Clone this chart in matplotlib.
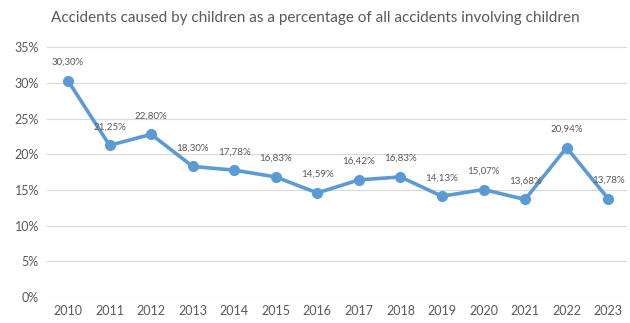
import matplotlib.pyplot as plt
from matplotlib.ticker import FuncFormatter

years = [str(y) for y in range(2010, 2024)]
values = [30.30, 21.25, 22.80, 18.30, 17.78, 16.83, 14.59, 16.42, 16.83, 14.13, 15.07, 13.68, 20.94, 13.78]

plt.rcParams['font.family'] = ['Lato', 'DejaVu Sans']
grey = '#595959'

fig = plt.figure(figsize=(6.3, 3.23), dpi=100)
ax = fig.add_axes([0.075, 0.080, 0.92, 0.774])

x = list(range(len(years)))
ax.plot(x, values, color='#5B9BD5', linewidth=2.6, marker='o', markersize=7, zorder=3)

for i, v in enumerate(values):
    ax.annotate(f"{v:.2f}%".replace('.', ','), (i, v), textcoords='offset points',
                xytext=(0, 10), ha='center', va='bottom', fontsize=7, color=grey)

ax.set_ylim(0, 35)
ax.set_yticks(range(0, 36, 5))
ax.yaxis.set_major_formatter(FuncFormatter(lambda v, p: f"{int(v)}%"))
ax.set_xlim(-0.5, 13.45)
ax.set_xticks(x)
ax.set_xticklabels(years)
ax.tick_params(length=0, labelsize=9, colors=grey, pad=6)
ax.grid(axis='y', color='#D9D9D9', linewidth=0.8)
ax.set_axisbelow(True)
for s in ax.spines.values():
    s.set_visible(False)

fig.text(0.5, 0.945, "Accidents caused by children as a percentage of all accidents involving children",
         ha='center', va='center', fontsize=11, color=grey)

fig.savefig('out.png', dpi=100)
